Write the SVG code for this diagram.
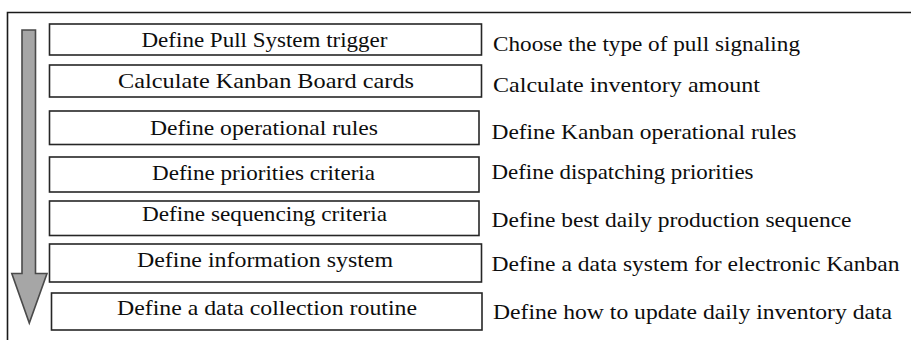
<svg xmlns="http://www.w3.org/2000/svg" width="911" height="340" viewBox="0 0 911 340">
<style>
.box{fill:#fff;stroke:#262626;stroke-width:1.6}
.t{font-size:21px;fill:#0d0d0d}
.frame{stroke:#1a1a1a;stroke-width:1.6;fill:none}
</style>
<rect width="911" height="340" fill="#fff"/>
<path class="frame" d="M7.5,340 V12.5 H911"/>
<g id="arrow">
<path d="M22,30 H35.5 V273.5 H47 L29.3,323 L11.8,273.5 H22 Z" fill="#a6a6a6" stroke="#4a4a4a" stroke-width="1.6" stroke-linejoin="miter"/>
</g>
<g font-family="'Liberation Serif', 'Times New Roman', 'DejaVu Serif', serif">
<g id="n1"><rect class="box" x="49.5" y="24" width="432" height="31"/><text class="t" x="141.5" y="46.5" textLength="246" lengthAdjust="spacingAndGlyphs">Define Pull System trigger</text></g>
<g id="n2"><rect class="box" x="49.5" y="65" width="432" height="32"/><text class="t" x="118" y="87.5" textLength="296" lengthAdjust="spacingAndGlyphs">Calculate Kanban Board cards</text></g>
<g id="n3"><rect class="box" x="49.5" y="111" width="429.5" height="33.5"/><text class="t" x="150" y="134.5" textLength="228" lengthAdjust="spacingAndGlyphs">Define operational rules</text></g>
<g id="n4"><rect class="box" x="49.5" y="157" width="429.5" height="35"/><text class="t" x="152" y="179.5" textLength="223" lengthAdjust="spacingAndGlyphs">Define priorities  criteria</text></g>
<g id="n5"><rect class="box" x="49.5" y="201" width="429.5" height="34.5"/><text class="t" x="142" y="220.5" textLength="245" lengthAdjust="spacingAndGlyphs">Define sequencing criteria</text></g>
<g id="n6"><rect class="box" x="49.5" y="244" width="432" height="38"/><text class="t" x="137" y="267" textLength="256" lengthAdjust="spacingAndGlyphs">Define information system</text></g>
<g id="n7"><rect class="box" x="51.5" y="293" width="430.5" height="37"/><text class="t" x="117" y="314.5" textLength="300" lengthAdjust="spacingAndGlyphs">Define a data collection routine</text></g>
<g id="desc">
<text class="t" x="493" y="51" textLength="307" lengthAdjust="spacingAndGlyphs">Choose the type of pull  signaling</text>
<text class="t" x="493" y="91.5" textLength="267" lengthAdjust="spacingAndGlyphs">Calculate inventory amount</text>
<text class="t" x="491.5" y="138.5" textLength="305" lengthAdjust="spacingAndGlyphs">Define Kanban operational rules</text>
<text class="t" x="491.5" y="178.5" textLength="262" lengthAdjust="spacingAndGlyphs">Define dispatching priorities</text>
<text class="t" x="491.5" y="226.5" textLength="360" lengthAdjust="spacingAndGlyphs">Define best daily production sequence</text>
<text class="t" x="491.5" y="270.5" textLength="408" lengthAdjust="spacingAndGlyphs">Define a  data system for electronic Kanban</text>
<text class="t" x="493" y="318.5" textLength="399" lengthAdjust="spacingAndGlyphs">Define how to update daily inventory data</text>
</g>
</g>
<g id="connectors"></g>
</svg>
